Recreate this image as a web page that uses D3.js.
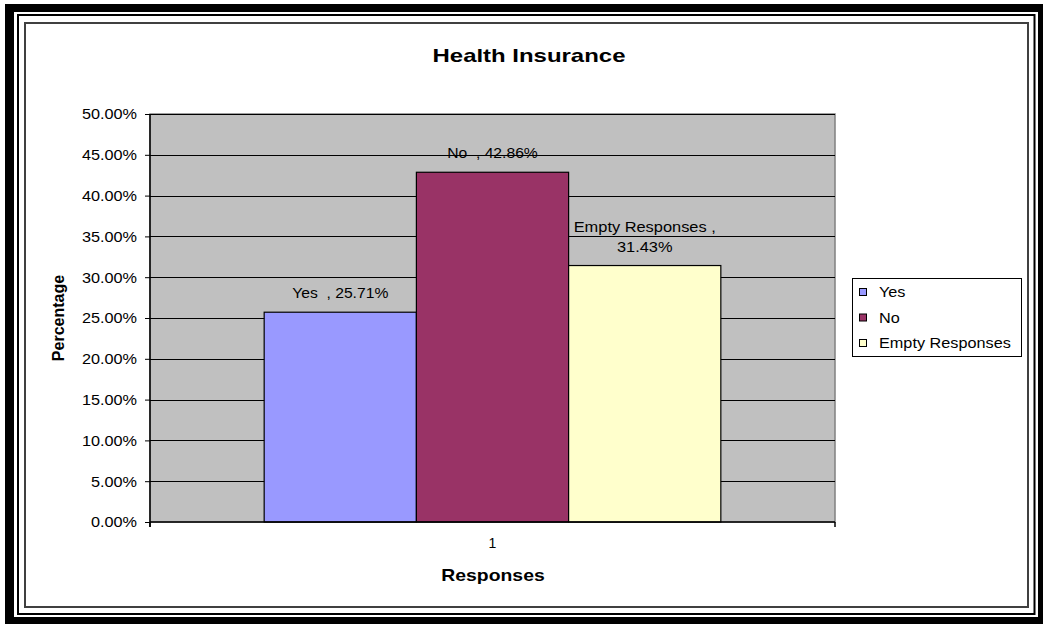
<!DOCTYPE html>
<html><head><meta charset="utf-8">
<script src="https://cdn.jsdelivr.net/npm/d3@7"></script>
<style>html,body{margin:0;padding:0;background:#fff;} svg{display:block;font-family:"Liberation Sans",Arial,sans-serif;}</style>
</head><body>
<script>
const categories = ["1"];
const seriesNames = ["Yes", "No", "Empty Responses"];
const seriesValues = [25.71, 42.86, 31.43];
const seriesColors = ["#9999FF", "#993366", "#FFFFCC"];
const yTicks = [0, 5, 10, 15, 20, 25, 30, 35, 40, 45, 50];
const titleText = "Health Insurance";
const xTitle = "Responses";
const yTitle = "Percentage";

const W = 1047, H = 624;
const svg = d3.select("body").append("svg").attr("width", W).attr("height", H);

function stretch(sel, f) {
  sel.each(function () {
    const l = this.getComputedTextLength();
    this.setAttribute("textLength", l * f);
    this.setAttribute("lengthAdjust", "spacingAndGlyphs");
  });
}

// frames
svg.append("rect").attr("x", 5).attr("y", 4).attr("width", 1038).attr("height", 620).attr("fill", "#000");
svg.append("rect").attr("x", 14).attr("y", 12).attr("width", 1024).attr("height", 605).attr("fill", "#fff");
svg.append("rect").attr("x", 18).attr("y", 15).attr("width", 1016.5).attr("height", 599)
  .attr("fill", "none").attr("stroke", "#000").attr("stroke-width", 2);
svg.append("rect").attr("x", 25).attr("y", 23).attr("width", 1003).attr("height", 584)
  .attr("fill", "#fff").attr("stroke", "#404040").attr("stroke-width", 2);

const plot = { l: 150, r: 835, t: 114, b: 522 };
const y = d3.scaleLinear().domain([0, 50]).range([plot.b, plot.t]);
const x0 = d3.scaleBand().domain(categories).range([plot.l, plot.r]).paddingOuter(0.25).paddingInner(0);
const x1 = d3.scaleBand().domain(seriesNames).range([0, x0.bandwidth()]).padding(0);

// plot background
svg.append("rect").attr("x", plot.l).attr("y", plot.t).attr("width", plot.r - plot.l).attr("height", plot.b - plot.t)
  .attr("fill", "#C0C0C0").attr("stroke", "#808080").attr("stroke-width", 1.5);

// gridlines
svg.append("g").selectAll("line").data(yTicks.filter(d => d > 0)).join("line")
  .attr("x1", plot.l).attr("x2", plot.r)
  .attr("y1", d => Math.round(y(d)) + 0.5).attr("y2", d => Math.round(y(d)) + 0.5)
  .attr("stroke", "#000").attr("stroke-width", 1);

// bars
const g = svg.append("g").selectAll("g").data(categories).join("g")
  .attr("transform", d => `translate(${x0(d)},0)`);
g.selectAll("rect").data(seriesNames.map((n, i) => ({ n, v: seriesValues[i], c: seriesColors[i] }))).join("rect")
  .attr("x", d => x1(d.n)).attr("width", x1.bandwidth())
  .attr("y", d => y(d.v)).attr("height", d => y(0) - y(d.v))
  .attr("fill", d => d.c).attr("stroke", "#000").attr("stroke-width", 1.2);

// data labels
const labels = g.selectAll("g.lbl").data(seriesNames.map((n, i) => ({ n, v: seriesValues[i] }))).join("g").attr("class", "lbl");
labels.each(function (d) {
  const cx = x1(d.n) + x1.bandwidth() / 2;
  const sel = d3.select(this);
  const pct = d.v.toFixed(2) + "%";
  if (d.n === "Empty Responses") {
    const t1 = sel.append("text").attr("x", cx).attr("y", y(d.v) - 34).attr("text-anchor", "middle")
      .attr("font-size", 14).attr("fill", "#000").text(d.n + " ,");
    const t2 = sel.append("text").attr("x", cx).attr("y", y(d.v) - 14).attr("text-anchor", "middle")
      .attr("font-size", 14).attr("fill", "#000").text(pct);
    stretch(t1, 1.17); stretch(t2, 1.17);
  } else {
    const t = sel.append("text").attr("x", cx).attr("y", y(d.v) - 14).attr("text-anchor", "middle")
      .attr("font-size", 14).attr("fill", "#000").attr("xml:space", "preserve").text(d.n + "  , " + pct);
    stretch(t, 1.12);
  }
});

// y axis
const yAxis = svg.append("g").attr("transform", `translate(${plot.l},0)`)
  .call(d3.axisLeft(y).tickValues(yTicks).tickSize(5).tickPadding(8).tickFormat(d => d.toFixed(2) + "%"));
yAxis.select(".domain").attr("stroke", "#000").attr("stroke-width", 1.5).attr("d", `M0,${plot.t}V${plot.b + 5}`);
yAxis.selectAll(".tick line").attr("stroke", "#000");
yAxis.selectAll(".tick text").attr("font-size", 14).attr("font-family", "Liberation Sans, Arial").attr("fill", "#000").attr("dy", "0.35em");
stretch(yAxis.selectAll(".tick text"), 1.16);

// x axis
const xAxis = svg.append("g").attr("transform", `translate(0,${plot.b})`)
  .call(d3.axisBottom(x0).tickSize(0).tickPadding(16));
xAxis.select(".domain").attr("stroke", "#000").attr("stroke-width", 1.5).attr("d", `M${plot.l},0H${plot.r}`);
xAxis.selectAll(".tick text").attr("font-size", 14).attr("font-family", "Liberation Sans, Arial").attr("fill", "#000");
xAxis.append("g").selectAll("line").data(x0.range()).join("line")
  .attr("x1", d => d).attr("x2", d => d).attr("y1", 0).attr("y2", 5).attr("stroke", "#000").attr("stroke-width", 1.5);

// titles
const tt = svg.append("text").attr("x", 529).attr("y", 62).attr("text-anchor", "middle")
  .attr("font-size", 19).attr("font-weight", "bold").attr("fill", "#000").text(titleText);
stretch(tt, 1.26);
const xt = svg.append("text").attr("x", 493).attr("y", 581).attr("text-anchor", "middle")
  .attr("font-size", 17).attr("font-weight", "bold").attr("fill", "#000").text(xTitle);
stretch(xt, 1.14);
svg.append("text").attr("transform", `translate(64,${(plot.t + plot.b) / 2}) rotate(-90)`).attr("text-anchor", "middle")
  .attr("font-size", 16).attr("font-weight", "bold").attr("fill", "#000").text(yTitle);

// legend
const leg = svg.append("g");
leg.append("rect").attr("x", 852.5).attr("y", 278.5).attr("width", 169).attr("height", 78)
  .attr("fill", "#fff").attr("stroke", "#000").attr("stroke-width", 1);
const items = leg.selectAll("g.item").data(seriesNames).join("g").attr("class", "item")
  .attr("transform", (d, i) => `translate(0,${292 + i * 25.5})`);
items.append("rect").attr("x", 859.5).attr("y", -3.5).attr("width", 7).attr("height", 7)
  .attr("fill", (d, i) => seriesColors[i]).attr("stroke", "#000").attr("stroke-width", 1);
const lt = items.append("text").attr("x", 879).attr("y", 5).attr("font-size", 14).attr("fill", "#000").text(d => d);
stretch(lt, 1.16);
</script>
</body></html>
